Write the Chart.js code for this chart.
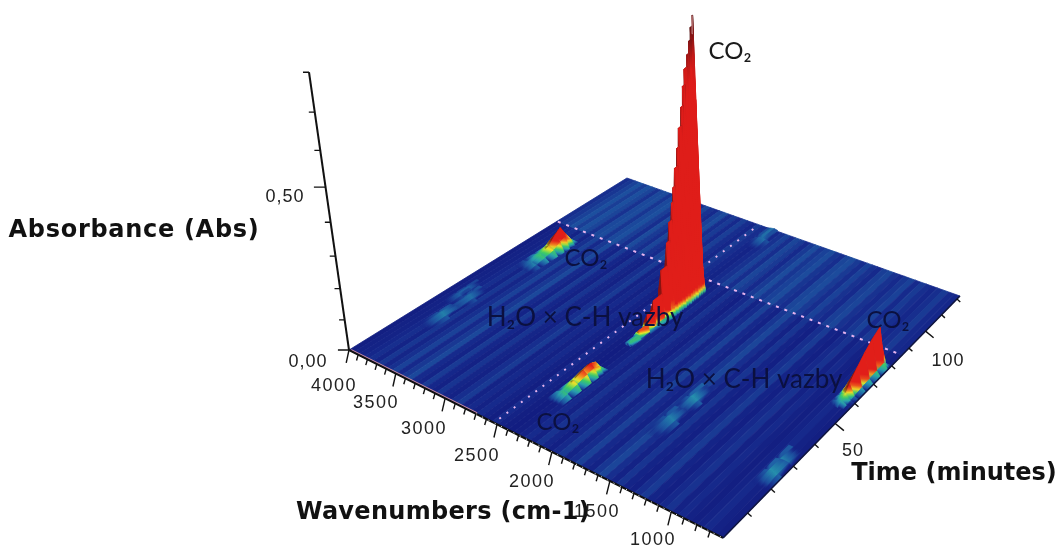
<!DOCTYPE html>
<html>
<head>
<meta charset="utf-8">
<style>
html, body { margin: 0; background: #fff; }
canvas { display: block; filter: blur(0.7px); }
</style>
<script src="https://cdn.jsdelivr.net/npm/chart.js@4"></script>
</head>
<body>
<canvas id="chart" width="1058" height="546"></canvas>
<script>
// floor of the surface: one stripe per wavenumber
const wavenumbers = [4000,3950,3900,3850,3800,3750,3700,3650,3600,3550,3500,3450,3400,3350,3300,3250,3200,3150,3100,3050,3000,2950,2900,2850,2800,2750,2700,2650,2600,2550,2500,2450,2400,2350,2300,2250,2200,2150,2100,2050,2000,1950,1900,1850,1800,1750,1700,1650,1600,1550,1500,1450,1400,1350,1300,1250,1200,1150,1100,1050,1000,950,900,850,800,750,700,650,600];
const floorTimes = [0, 86, 122];
const floorEarly = [.0002,.0004,.0005,.0008,.0012,.0006,.0016,.0007,.0013,.0022,.0009,.0017,.0026,.0010,.0006,.0018,.0008,.0004,.0015,.0007,.0004,.0012,.0018,.0005,.0009,.0004,.0010,.0005,.0002,.0010,.0005,.0002,.0001,.0002,.0005,.0010,.0004,.0014,.0007,.0003,.0009,.0017,.0006,.0011,.0021,.0009,.0005,.0016,.0024,.0012,.0005,.0015,.0006,.0003,.0012,.0018,.0006,.0003,.0009,.0014,.0004,.0009,.0004,.0002,.0005,.0009,.0004,.0002];
const floorLate = [.0012,.0016,.0022,.0030,.0020,.0030,.0024,.0014,.0026,.0028,.0016,.0026,.0030,.0020,.0012,.0028,.0018,.0012,.0024,.0014,.0010,.0022,.0028,.0012,.0018,.0010,.0020,.0012,.0008,.0018,.0012,.0008,.0006,.0010,.0014,.0022,.0012,.0024,.0018,.0010,.0018,.0028,.0016,.0022,.0028,.0016,.0012,.0024,.0028,.0018,.0012,.0022,.0014,.0010,.0020,.0024,.0014,.0010,.0016,.0022,.0010,.0018,.0012,.0008,.0012,.0018,.0010,.0008];

// CO2 bands: cross section over wavenumber, height over time
const co2HighWn = [3800,3750,3700,3650,3610];
const co2HighShape = [0,.6,1,.6,0];
const co2HighTimes = [58,62,66,70,73,75.5,78,80];
const co2HighAbs = [0,.006,.014,.024,.045,.058,.025,0];

const co2EarlyWn = [2410,2370,2340,2305,2270];
const co2EarlyShape = [0,.7,1,.7,0];
const co2EarlyTimes = [15,19,23,27,30,32,34];
const co2EarlyAbs = [0,.012,.022,.032,.036,.028,0];

const co2MainWn = [2380,2350,2320,2305,2285];
const co2MainShape = [0,.6,1,.12,0];
const co2MainTimes = [42,46,50,54,57,61,64,65.5,67,68,69,70.5,71.5,73,74,75,76.5,77.5,78.5,79.5,79.7,79.85,80];
const co2MainAbs = [0,.012,.03,.06,.09,.165,.235,.29,.34,.38,.43,.48,.53,.58,.63,.67,.7,.73,.76,.785,.57,.3,0];

const co2LowWn = [745,715,675,635,605];
const co2LowShape = [0,.5,1,.12,0];
const co2LowTimes = [56,58,60,62,66,70,74,78,79,80];
const co2LowAbs = [0,.01,.02,.04,.07,.095,.115,.128,.07,0];

// faint H2O x C-H patches
const patchShape = [0,.6,1,.6,0];
const waterWn = [3830,3795,3760,3725,3690];
const waterTimes = [19,27,32,38,44];
const waterAbs = [0,.006,.004,.005,0];
const waterTopWn = [3910,3885,3860,3835,3810];
const waterTopTimes = [31,37,41,46];
const waterTopAbs = [0,.004,.004,0];
const waterMidWn = [1620,1585,1550,1515,1480];
const waterMidTimes = [19,27,32,37,44];
const waterMidAbs = [0,.006,.003,.007,0];
const waterLowWn = [740,705,670,635,600];
const waterLowTimes = [19,25,30,36];
const waterLowAbs = [0,.007,.006,0];
const backWn = [2440,2405,2370,2335,2300];
const backTimes = [108,115,122];
const backAbs = [0,.005,.005];

// axis ticks
const wnTicks = [4000,3900,3800,3700,3600,3500,3400,3300,3200,3100,3000,2900,2800,2700,2600,2500,2400,2300,2200,2100,2000,1900,1800,1700,1600,1500,1400,1300,1200,1100,1000,900,800,700];
const wnMajor = [4000,3500,3000,2500,2000,1500,1000];
const timeTicks = [10,20,30,40,50,60,70,80,90,100,110,120];
const timeMajor = [50,100];
const absTicks = [0,.1,.2,.3,.4,.5,.6,.7,.8];
const absMajor = [0,.5];

const dottedWn = 2530;
const dottedTime = 86;

function project(w, t, z) {
    const u = (4000 - w) / 3400;
    const v = t / 122;
    const den = -0.1702 * u + 0.2442 * v + 1;
    const x = (251 * u + 431 * v + 349) / den;
    const y = (96.4 * u - 128.5 * v + 350) / den;
    const k = 0.0925 * z / (1 - 0.186 * z);
    return { x: x + (x - 809) * k, y: y + (y - 3545) * k };
}

const colorStops = [
    [0, 18, 28, 128], [.001, 22, 42, 140], [.002, 26, 62, 150], [.004, 30, 95, 165],
    [.008, 40, 160, 175], [.014, 60, 205, 100], [.02, 235, 230, 40], [.027, 240, 110, 30],
    [.034, 225, 30, 25], [.66, 222, 28, 25], [.74, 120, 20, 20], [.8, 80, 15, 15]
];
function color_at(z, shade = 1, fade = false) {
    let i = 0;
    while (i < colorStops.length - 2 && z > colorStops[i + 1][0]) i++;
    const a = colorStops[i];
    const b = colorStops[i + 1];
    const f = Math.max(0, Math.min(1, (z - a[0]) / (b[0] - a[0])));
    const s = z > .02 ? shade : 1;
    const c = [1, 2, 3].map((n) => Math.round((a[n] + (b[n] - a[n]) * f) * s));
    const alpha = fade ? Math.min(1, z / .0025) : 1;
    return `rgba(${c[0]},${c[1]},${c[2]},${alpha})`;
}

const canvas = document.getElementById('chart');
const ctx = canvas.getContext('2d');
const datasets = [];

function add_line(points, color, width, dash) {
    datasets.push({
        data: points, showLine: true, fill: false, borderColor: color, borderWidth: width,
        borderDash: dash || [], pointRadius: 0, tension: 0, borderCapStyle: 'butt'
    });
}
function add_quad(pts, paint) {
    datasets.push({
        data: [...pts, pts[0]], showLine: true, fill: 'shape', backgroundColor: paint,
        borderColor: paint, borderWidth: 0.8, pointRadius: 0, tension: 0
    });
}
function add_cell(corners, shade) {
    // gradient runs from lowest to highest corner
    const pts = corners.map((c) => project(c.w, c.t, c.z));
    let lo = 0, hi = 0;
    corners.forEach((c, i) => {
        if (c.z < corners[lo].z) lo = i;
        if (c.z > corners[hi].z) hi = i;
    });
    const z0 = corners[lo].z, z1 = corners[hi].z;
    let paint = color_at(z0, shade, true);
    if (z1 > z0) {
        paint = ctx.createLinearGradient(pts[lo].x, pts[lo].y, pts[hi].x, pts[hi].y);
        for (let s = 0; s <= 8; s++) paint.addColorStop(s / 8, color_at(z0 + (z1 - z0) * s / 8, shade, true));
    }
    add_quad(pts, paint);
}
function add_band(wn, shape, times, abs, stepped) {
    let rowT = times, rowZ = abs;
    if (stepped) {
        rowT = []; rowZ = [];
        times.forEach((t, i) => {
            rowT.push(t); rowZ.push(i ? abs[i - 1] : abs[0]);
            rowT.push(t); rowZ.push(abs[i]);
        });
    }
    const peak = shape.indexOf(Math.max(...shape));
    for (let i = rowT.length - 2; i >= 0; i--) {
        for (let j = 0; j < wn.length - 1; j++) {
            if (rowZ[i] === 0 && rowZ[i + 1] === 0) continue;
            add_cell([
                { w: wn[j], t: rowT[i], z: rowZ[i] * shape[j] },
                { w: wn[j + 1], t: rowT[i], z: rowZ[i] * shape[j + 1] },
                { w: wn[j + 1], t: rowT[i + 1], z: rowZ[i + 1] * shape[j + 1] },
                { w: wn[j], t: rowT[i + 1], z: rowZ[i + 1] * shape[j] }
            ], j < peak ? 0.62 : 1);
        }
    }
}

// floor
for (let j = 0; j < wavenumbers.length - 1; j++) {
    const w0 = wavenumbers[j], w1 = wavenumbers[j + 1];
    add_quad([project(w0, floorTimes[0], 0), project(w1, floorTimes[0], 0), project(w1, floorTimes[1], 0), project(w0, floorTimes[1], 0)], color_at(floorEarly[j]));
    add_quad([project(w0, floorTimes[1], 0), project(w1, floorTimes[1], 0), project(w1, floorTimes[2], 0), project(w0, floorTimes[2], 0)], color_at(floorLate[j]));
}

add_band(waterWn, patchShape, waterTimes, waterAbs);
add_band(waterTopWn, patchShape, waterTopTimes, waterTopAbs);
add_band(waterMidWn, patchShape, waterMidTimes, waterMidAbs);
add_band(waterLowWn, patchShape, waterLowTimes, waterLowAbs);
add_band(backWn, patchShape, backTimes, backAbs);

// dotted markers on the floor
add_line([project(dottedWn, 2, 0), project(dottedWn, 119, 0)], '#e7b4ee', 2, [2, 7]);
add_line([project(3990, dottedTime, 0), project(620, dottedTime, 0)], '#e7b4ee', 2, [3, 6]);

add_band(co2HighWn, co2HighShape, co2HighTimes, co2HighAbs);
add_band(co2EarlyWn, co2EarlyShape, co2EarlyTimes, co2EarlyAbs);
add_band(co2MainWn, co2MainShape, co2MainTimes, co2MainAbs, true);
add_band(co2LowWn, co2LowShape, co2LowTimes, co2LowAbs);
add_line([project(2320, 79.5, .74), project(2320, 79.5, .785)], '#d99a9a', 1);

// axes
add_line([project(4000, 0, 0), project(4000, 0, .8)], '#111', 2);
add_line([project(4000, 0, 0), project(600, 0, 0)], '#111', 2);
add_line([project(3990, .5, 0), project(2700, .5, 0)], '#c98aa0', 1);
add_line([project(2700, 0, 0), project(600, 0, 0)], '#fff', 1, [1, 6]);
add_line([project(600, 0, 0), project(600, 122, 0)], '#10153f', 1.6);
for (const w of wnTicks) {
    const major = wnMajor.includes(w);
    add_line([project(w, 0, 0), project(w, major ? -1.5 : -.8, major ? -.035 : -.015)], '#111', 1.4);
}
for (const t of timeTicks) {
    const major = timeMajor.includes(t);
    add_line([project(600, t, 0), project(major ? 530 : 570, t, major ? -.012 : -.006)], '#111', 1.4);
}
for (const z of absTicks) {
    const major = absMajor.includes(z);
    const d = major ? 1 : .5;
    add_line([project(4000, 0, z), project(4000 + 67 * d, -1.75 * d, z)], '#111', 1.4);
}

// text is placed in picture coordinates, same scales as the marks
const tickFont = '18px "Liberation Sans"';
const titleFont = 'bold 24px "DejaVu Sans"';
const noteFont = '24px Lato';
const bandFont = '26px Lato';
const texts = [
    ['0,50', 285, 197, tickFont, '#222', 1], ['0,00', 308, 362, tickFont, '#222', 1],
    ['4000', 334, 386, tickFont, '#222', 1.5], ['3500', 376, 403, tickFont, '#222', 1.5],
    ['3000', 424, 429, tickFont, '#222', 1.5], ['2500', 477, 456, tickFont, '#222', 1.5],
    ['2000', 532, 482, tickFont, '#222', 1.5], ['1000', 653, 540, tickFont, '#222', 1.5],
    ['50', 853, 451, tickFont, '#222', 1], ['100', 948, 361, tickFont, '#222', 1],
    ['Absorbance (Abs)', 134, 231, titleFont, '#111', .7],
    ['Wavenumbers (cm-1)', 443, 513, titleFont, '#111', .3],
    ['1500', 597, 512, tickFont, '#222', 1.5],
    ['Time (minutes)', 954, 474, titleFont, '#111', 0],
    ['CO₂', 730, 51, noteFont, '#1a1a1a', 0],
    ['CO₂', 586, 258, noteFont, '#0b1040', 0], ['CO₂', 558, 422, noteFont, '#0b1040', 0], ['CO₂', 888, 320, noteFont, '#0b1040', 0],
    ['H₂O × C-H vazby', 585, 318, bandFont, '#0b1040', 0], ['H₂O × C-H vazby', 744, 380, bandFont, '#0b1040', 0]
];
const text_plugin = {
    id: 'text_plugin',
    afterDatasetsDraw(chart) {
        const c = chart.ctx;
        const { x, y } = chart.scales;
        c.save();
        c.textAlign = 'center';
        c.textBaseline = 'middle';
        for (const [label, px, py, font, color, spacing] of texts) {
            c.font = font;
            c.fillStyle = color;
            c.letterSpacing = `${spacing}px`;
            c.fillText(label, x.getPixelForValue(px), y.getPixelForValue(py));
        }
        c.restore();
    }
};

// first dataset is painted last in Chart.js, so flip painter's order
datasets.reverse();

new Chart(canvas, {
    type: 'scatter',
    data: { datasets },
    plugins: [text_plugin],
    options: {
        responsive: false,
        animation: false,
        events: [],
        layout: { padding: 0 },
        plugins: { legend: { display: false }, tooltip: { enabled: false } },
        scales: {
            x: { type: 'linear', min: 0, max: 1058, display: false },
            y: { type: 'linear', min: 0, max: 546, reverse: true, display: false }
        }
    }
});
</script>
</body>
</html>
